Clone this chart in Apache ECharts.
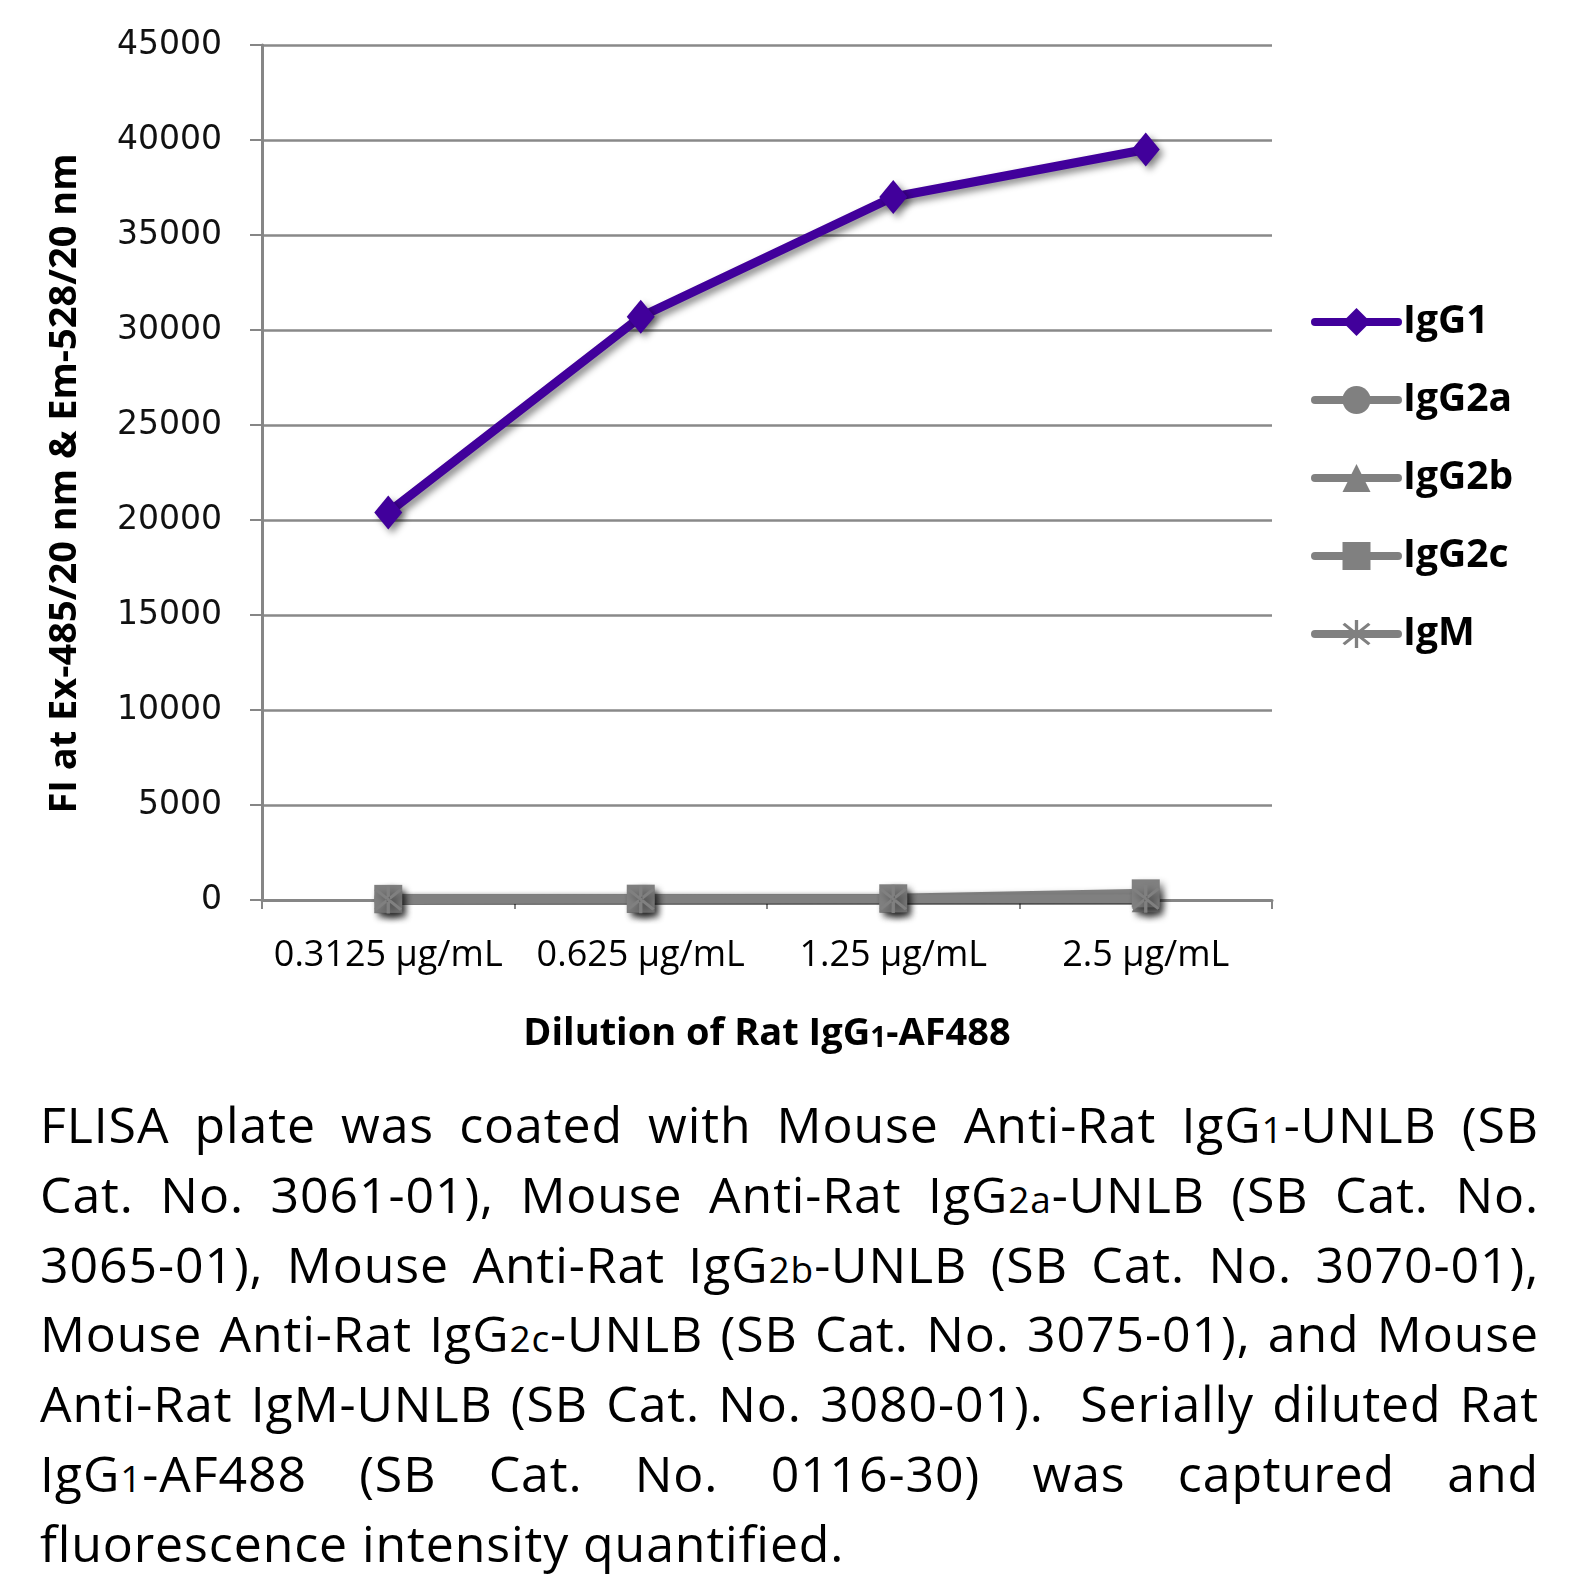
<!DOCTYPE html>
<html>
<head>
<meta charset="utf-8">
<script src="https://cdn.jsdelivr.net/npm/echarts@6/dist/echarts.min.js"></script>
<style>
  html, body { margin: 0; padding: 0; background: #fff; }
  #wrap { position: relative; width: 1582px; height: 1579px; overflow: hidden; }
  #chart { position: absolute; left: 0; top: 0; width: 1582px; height: 1075px; }
  #caption { position: absolute; left: 40px; top: 1090px; width: 1499px;
    font-family: 'Open Sans', sans-serif; font-size: 50px; letter-spacing: 0.9px; line-height: 69.8px; color: #000; }
  #caption .ln { text-align: justify; text-align-last: justify; white-space: normal; height: 69.8px; }
  #caption .ln.last { text-align: left; text-align-last: left; }
  #caption .s { font-size: 0.74em; line-height: 0; }
</style>
</head>
<body>
<div id="wrap">
  <div id="chart"></div>
  <div id="caption">
    <div class="ln">FLISA plate was coated with Mouse Anti-Rat IgG<span class="s">1</span>-UNLB (SB</div>
    <div class="ln">Cat. No. 3061-01), Mouse Anti-Rat IgG<span class="s">2a</span>-UNLB (SB Cat. No.</div>
    <div class="ln">3065-01), Mouse Anti-Rat IgG<span class="s">2b</span>-UNLB (SB Cat. No. 3070-01),</div>
    <div class="ln">Mouse Anti-Rat IgG<span class="s">2c</span>-UNLB (SB Cat. No. 3075-01), and Mouse</div>
    <div class="ln">Anti-Rat IgM-UNLB (SB Cat. No. 3080-01).&nbsp; Serially diluted Rat</div>
    <div class="ln">IgG<span class="s">1</span>-AF488 (SB Cat. No. 0116-30) was captured and</div>
    <div class="ln last">fluorescence intensity quantified.</div>
  </div>
</div>
<script>
// ---- data ----
const categories = ['0.3125 µg/mL', '0.625 µg/mL', '1.25 µg/mL', '2.5 µg/mL'];
const seriesNames = ['IgG1', 'IgG2a', 'IgG2b', 'IgG2c', 'IgM'];
const igG1 = [20400, 30700, 37000, 39500];
const igG2a = [50, 50, 60, 80];
const igG2b = [40, 50, 60, 90];
const igG2c = [60, 70, 90, 350];
const igM = [30, 40, 50, 70];
const yMin = 0, yMax = 45000, yStep = 5000;

const PURPLE = '#41009b';
const GRAY = '#808080';
const asterisk = 'path://M9,0 L11,0 L11,20 L9,20 Z M1.6,3.4 L3,2 L18.4,16.6 L17,18 Z M18.4,3.4 L17,2 L1.6,16.6 L3,18 Z';

const shadow = { shadowColor: 'rgba(0,0,0,0.45)', shadowBlur: 7, shadowOffsetX: 4, shadowOffsetY: 4 };

function mk(name, data, color, symbol, size) {
  return {
    name: name, type: 'line', data: data, symbol: symbol, symbolSize: size,
    showSymbol: true, animation: false,
    lineStyle: Object.assign({ color: color, width: 9 }, shadow),
    itemStyle: Object.assign({ color: color, borderWidth: 0 }, shadow),
    emphasis: { disabled: true }
  };
}

const chart = echarts.init(document.getElementById('chart'), null, { renderer: 'canvas' });
chart.setOption({
  animation: false,
  backgroundColor: '#fff',
  grid: { left: 262, right: 310, top: 45, bottom: 175 },
  legend: {
    orient: 'vertical', left: 1306, top: 297,
    itemWidth: 83, itemHeight: 35, itemGap: 38,
    lineStyle: { width: 8, cap: 'round', shadowBlur: 0, shadowOffsetX: 0, shadowOffsetY: 0, shadowColor: 'rgba(0,0,0,0)' },
    itemStyle: { shadowBlur: 0, shadowOffsetX: 0, shadowOffsetY: 0, shadowColor: 'rgba(0,0,0,0)' },
    textStyle: { fontFamily: 'Open Sans', fontWeight: 'bold', fontSize: 39, color: '#000', lineHeight: 40 },
    data: seriesNames
  },
  xAxis: {
    type: 'category', data: categories, boundaryGap: true,
    axisLine: { show: true, lineStyle: { color: '#868686', width: 3 } },
    axisTick: { show: true, alignWithLabel: false, length: 9, lineStyle: { color: '#868686', width: 2 } },
    axisLabel: { fontFamily: 'Open Sans', fontSize: 36, color: '#000', margin: 38, interval: 0 },
    name: '{a|Dilution of Rat IgG}{b|1}{a|-AF488}',
    nameLocation: 'middle', nameGap: 112,
    nameTextStyle: {
      rich: {
        a: { fontFamily: 'Open Sans', fontWeight: 'bold', fontSize: 38, color: '#000', lineHeight: 44 },
        b: { fontFamily: 'Open Sans', fontWeight: 'bold', fontSize: 28, color: '#000', lineHeight: 44, verticalAlign: 'bottom', padding: [0, 0, 3, 0] }
      }
    }
  },
  yAxis: {
    type: 'value', min: yMin, max: yMax, interval: yStep,
    axisLine: { show: true, lineStyle: { color: '#868686', width: 3 } },
    axisTick: { show: true, length: 12, lineStyle: { color: '#868686', width: 2 } },
    splitLine: { show: true, lineStyle: { color: '#898989', width: 2.5 } },
    axisLabel: { fontFamily: 'DejaVu Sans', fontSize: 33, color: '#111', margin: 40, formatter: function (v) { return String(v); } },
    name: 'FI at Ex-485/20 nm & Em-528/20 nm',
    nameLocation: 'middle', nameRotate: 90, nameGap: 178,
    nameTextStyle: { fontFamily: 'Open Sans', fontWeight: 'bold', fontSize: 38, color: '#000', padding: [0, 22, 0, 0] }
  },
  series: [
    mk(seriesNames[0], igG1, PURPLE, 'diamond', [28, 34]),
    mk(seriesNames[1], igG2a, GRAY, 'circle', 28),
    mk(seriesNames[2], igG2b, GRAY, 'triangle', 28),
    mk(seriesNames[3], igG2c, GRAY, 'rect', 28),
    mk(seriesNames[4], igM, GRAY, asterisk, 28)
  ]
});
</script>
</body>
</html>
